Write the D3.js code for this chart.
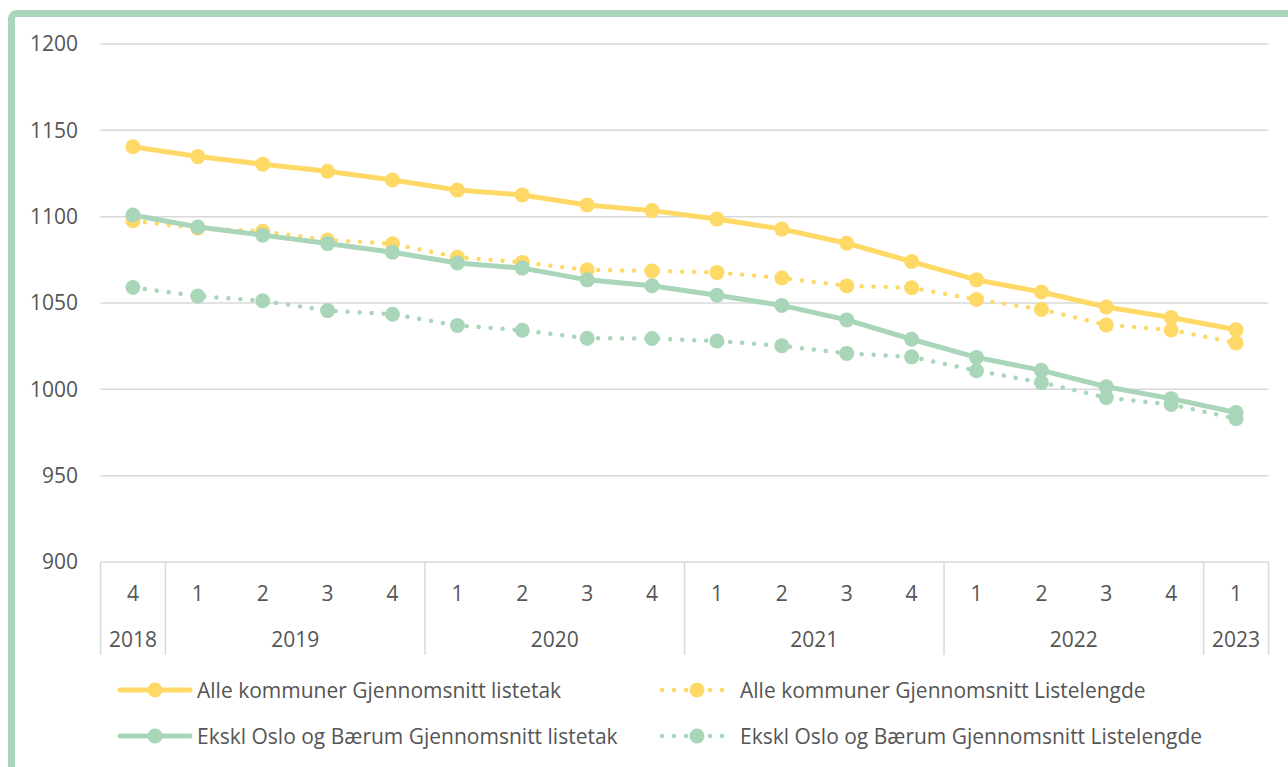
<!DOCTYPE html>
<html><head><meta charset="utf-8">
<script src="https://cdn.jsdelivr.net/npm/d3@7"></script>
<style>
html,body{margin:0;padding:0;background:#fff;}
svg{display:block;font-family:"Open Sans",sans-serif;}
</style></head>
<body>
<svg id="c" width="1288" height="767"></svg>
<script>
const quarters = ["4","1","2","3","4","1","2","3","4","1","2","3","4","1","2","3","4","1"];
const years = [{label:"2018",start:0,end:1},{label:"2019",start:1,end:5},{label:"2020",start:5,end:9},{label:"2021",start:9,end:13},{label:"2022",start:13,end:17},{label:"2023",start:17,end:18}];
const yTicks = [900,950,1000,1050,1100,1150,1200];
const alleListetak = [1140.5,1134.8,1130.4,1126.3,1121.2,1115.4,1112.6,1106.8,1103.5,1098.6,1092.8,1084.6,1074,1063.4,1056.4,1047.7,1041.6,1034.5];
const alleListelengde = [1097.6,1093.3,1091.5,1086.5,1084.3,1076.5,1073.5,1069.2,1068.6,1067.6,1064.5,1059.9,1058.8,1052,1046.3,1037.3,1034.4,1026.9];
const eksklListetak = [1101,1094,1089.3,1084.4,1079.4,1073.2,1070.2,1063.4,1060,1054.5,1048.6,1040.2,1029,1018.5,1011,1001.5,994.6,986.6];
const eksklListelengde = [1059,1054,1051.3,1045.6,1043.5,1037,1034.2,1029.6,1029.4,1028,1025.2,1020.8,1018.8,1010.8,1004,995.2,991.2,983];
const seriesNames = ["Alle kommuner Gjennomsnitt listetak","Alle kommuner Gjennomsnitt Listelengde","Ekskl Oslo og Bærum Gjennomsnitt listetak","Ekskl Oslo og Bærum Gjennomsnitt Listelengde"];

const YELLOW = "#FFD966", GREEN = "#A9D5B9", TEXT = "#555555", GRID = "#D9D9D9";
const FS = "21px";
const series = [
  {name:seriesNames[0], values:alleListetak, color:YELLOW, dotted:false},
  {name:seriesNames[1], values:alleListelengde, color:YELLOW, dotted:true},
  {name:seriesNames[2], values:eksklListetak, color:GREEN, dotted:false},
  {name:seriesNames[3], values:eksklListelengde, color:GREEN, dotted:true}
];

const svg = d3.select("#c");
// frame
svg.append("rect").attr("x",11.5).attr("y",13.5).attr("width",1400).attr("height",1000)
  .attr("rx",5).attr("fill","none").attr("stroke",GREEN).attr("stroke-width",7);

const x = d3.scaleBand().domain(d3.range(quarters.length)).range([100.5,1268.5]).padding(0);
const y = d3.scaleLinear().domain([900,1200]).range([562,44]);
const cx = i => x(i) + x.bandwidth()/2;

// gridlines
svg.append("g").selectAll("line").data(yTicks.filter(t=>t>900)).join("line")
  .attr("x1",100.5).attr("x2",1268.5).attr("y1",d=>y(d)).attr("y2",d=>y(d))
  .attr("stroke",GRID).attr("stroke-width",1.5);

// y labels
const yAxis = d3.axisLeft(y).tickValues(yTicks).tickFormat(d3.format("d")).tickSize(0).tickPadding(0);
const ya = svg.append("g").attr("transform","translate(78,0)").call(yAxis);
ya.select(".domain").remove();
ya.selectAll("text").attr("fill",TEXT).style("font-size",FS).style("font-family","'Open Sans',sans-serif");

// category axis
const ax = svg.append("g");
const xEnd = i => i===quarters.length ? x.range()[1] : x(i);
ax.append("line").attr("x1",100.5).attr("x2",1268.5).attr("y1",562).attr("y2",562).attr("stroke",GRID).attr("stroke-width",1.5);
const bounds = [0].concat(years.map(d=>d.end));
ax.selectAll("line.b").data(bounds).join("line").attr("class","b")
  .attr("x1",d=>xEnd(d)).attr("x2",d=>xEnd(d))
  .attr("y1",562).attr("y2",655).attr("stroke",GRID).attr("stroke-width",1.5);
ax.selectAll("text.q").data(quarters).join("text").attr("class","q")
  .attr("x",(d,i)=>cx(i)).attr("y",601).attr("text-anchor","middle")
  .attr("fill",TEXT).style("font-size",FS).text(d=>d);
ax.selectAll("text.yr").data(years).join("text").attr("class","yr")
  .attr("x",d=>(x(d.start) + xEnd(d.end))/2).attr("y",647).attr("text-anchor","middle")
  .attr("fill",TEXT).style("font-size",FS).text(d=>d.label);

// lines
const line = d3.line().x((d,i)=>cx(i)).y(d=>y(d));
const draw = [series[1], series[3], series[0], series[2]];
draw.forEach(s=>{
  const g = svg.append("g");
  g.append("path").attr("d",line(s.values)).attr("fill","none").attr("stroke",s.color)
    .attr("stroke-width",s.dotted?4.5:5).attr("stroke-linecap","round").attr("stroke-linejoin","round")
    .attr("stroke-dasharray",s.dotted?"0.01 12":null);
  g.selectAll("circle").data(s.values).join("circle")
    .attr("cx",(d,i)=>cx(i)).attr("cy",d=>y(d)).attr("r",7.5).attr("fill",s.color);
});

// legend
const leg = [
  {s:series[0], lx:120, ly:690},
  {s:series[1], lx:662, ly:690},
  {s:series[2], lx:120, ly:736},
  {s:series[3], lx:662, ly:736}
];
leg.forEach(l=>{
  const g = svg.append("g");
  g.append("line").attr("x1",l.lx).attr("x2",l.lx+70).attr("y1",l.ly).attr("y2",l.ly)
    .attr("stroke",l.s.color).attr("stroke-width",l.s.dotted?4.5:5).attr("stroke-linecap","round")
    .attr("stroke-dasharray",l.s.dotted?"0.01 12":null);
  g.append("circle").attr("cx",l.lx+35).attr("cy",l.ly).attr("r",7.5).attr("fill",l.s.color);
  g.append("text").attr("x",l.lx+(l.s.dotted?78:77)).attr("y",l.ly+7.5).attr("fill",TEXT)
    .style("font-size",FS).text(l.s.name);
});
</script>
</body></html>
